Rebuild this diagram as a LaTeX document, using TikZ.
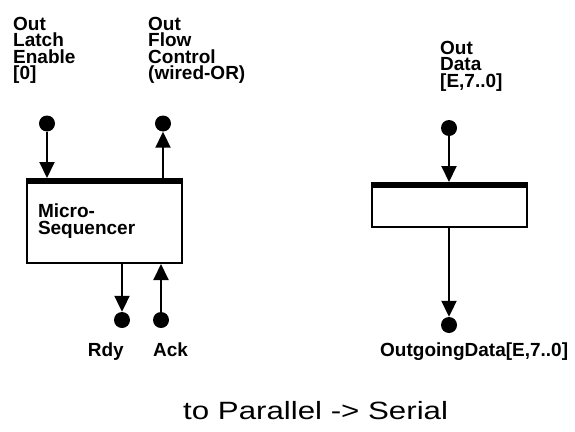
\documentclass[tikz,border=0pt]{standalone}
\usepackage{fontspec}
\setmainfont{Liberation Sans}
\newfontfamily\titlefont[FakeStretch=1.25]{Liberation Sans}
\usetikzlibrary{arrows.meta,positioning}

\begin{document}
\begin{tikzpicture}[x=1pt,y=-1pt,
  every node/.style={font=\fontsize{19}{16.5}\selectfont\bfseries, inner sep=0pt},
  lbl/.style={align=left, anchor=north west},
  dot/.style={circle, fill, minimum size=16pt},
  blk/.style={draw, line width=2pt, minimum width=155pt},
  sig/.style={line width=2pt, -{Triangle[length=16pt,width=15pt]}}]
  \useasboundingbox (0,0) rectangle (575,431);
  % micro-sequencer
  \node[blk, minimum height=84pt, align=left, text width=133pt] (useq) at (104.5,221) {Micro-\\Sequencer};
  \fill (useq.north west) rectangle ([yshift=-6pt]useq.north east);
  % output register
  \node[blk, minimum height=44pt] (sreg) at (449.5,205) {};
  \fill (sreg.north west) rectangle ([yshift=-6pt]sreg.north east);
  % terminals
  \node[dot] (ole) at (47,123.5) {};
  \node[dot] (ofc) at (163,123.5) {};
  \node[dot] (rdy) at (122,320) {};
  \node[dot] (ack) at (161,320) {};
  \node[dot] (odi) at (449,128) {};
  \node[dot] (odo) at (449,325) {};
  \draw[sig] (ole) -- (ole |- useq.north);
  \draw[sig] (ofc |- useq.north) -- (ofc);
  \draw[sig] (rdy |- useq.south) -- (rdy);
  \draw[sig] (ack) -- (ack |- useq.south);
  \draw[sig] (odi) -- (odi |- sreg.north);
  \draw[sig] (odi |- sreg.south) -- (odo);
  % labels
  \node[lbl] (tole) at (13,17) {Out\\Latch\\Enable\\{[0]}};
  \node[lbl] (tofc) at (148,17) {Out\\Flow\\Control\\(wired-OR)};
  \node[lbl] (todi) at (440,41) {Out\\Data\\{[E,7..0]}};
  \node[anchor=north east] (trdy) at (124,343) {Rdy};
  \node[anchor=north west] (tack) at (153,343) {Ack};
  \node[anchor=north west] (todo) at (380,343) {OutgoingData[E,7..0]};
  \node[anchor=north west, font=\titlefont\fontsize{25}{25}\selectfont] (ttl) at (183,401) {to Parallel -> Serial};
\end{tikzpicture}
\end{document}
